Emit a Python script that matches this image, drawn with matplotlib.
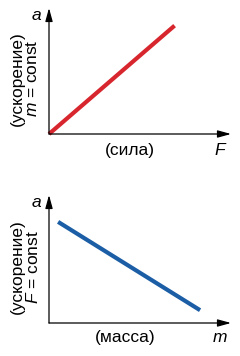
# -*- coding: utf-8 -*-

"""
Newton's second law: acceleration vs force and vs mass
"""

import matplotlib
matplotlib.use('Agg')
import matplotlib.pyplot as plt


# Conceptual data (arbitrary units)
force = [0.0, 0.69]
accel_vs_force = [0.0, 0.86]

mass = [0.05, 0.83]
accel_vs_mass = [0.79, 0.10]

RED = '#d8262e'
BLUE = '#1c5ea6'
W, H = 240, 356
FS = 12.5

plt.rcParams['font.family'] = ['Liberation Sans', 'DejaVu Sans']
plt.rcParams['mathtext.fontset'] = 'custom'
plt.rcParams['mathtext.it'] = 'Liberation Sans:italic'
plt.rcParams['mathtext.rm'] = 'Liberation Sans'


def px_axes(fig, left, top, right, bottom):
    """Add axes from pixel box (origin at top-left)."""
    return fig.add_axes([left / W, 1 - bottom / H,
                         (right - left) / W, (bottom - top) / H])


def draw_panel(ax, x, y, color, xname, yname, xlabel, xlabel_x, label_y,
               const):
    ax.set_xlim(0, 1)
    ax.set_ylim(0, 1)
    ax.axis('off')
    ax.plot(x, y, color=color, lw=3.0, solid_capstyle='butt', clip_on=False)

    # Axis arrows
    arrow = dict(arrowstyle='-|>,head_length=0.8,head_width=0.22',
                 color='black', lw=0.9, shrinkA=0, shrinkB=0)
    ax.annotate('', xy=(1, 0), xytext=(0, 0), xycoords='axes fraction',
                arrowprops=arrow)
    ax.annotate('', xy=(0, 1), xytext=(0, 0), xycoords='axes fraction',
                arrowprops=arrow)

    # Labels
    ax.text(-0.045, 0.94, yname, transform=ax.transAxes, ha='right',
            va='center', fontsize=FS, style='italic')
    ax.text(0.94, label_y, xname, transform=ax.transAxes, ha='center',
            va='center', fontsize=FS, style='italic')
    ax.text(xlabel_x, label_y, xlabel, transform=ax.transAxes, ha='center',
            va='center', fontsize=FS)
    ax.text(-0.176, 0.44, '(ускорение)', transform=ax.transAxes,
            ha='center', va='center', rotation=90, fontsize=FS)
    ax.text(-0.088, 0.44, const, transform=ax.transAxes,
            ha='center', va='center', rotation=90, fontsize=FS)


fig = plt.figure(figsize=(W / 100, H / 100), dpi=100)

ax1 = px_axes(fig, 49, 8, 231, 134)
draw_panel(ax1, force, accel_vs_force, RED, 'F', 'a', '(сила)', 0.445,
           -0.127, '$m$ = const')

ax2 = px_axes(fig, 49, 195, 231, 323)
draw_panel(ax2, mass, accel_vs_mass, BLUE, 'm', 'a', '(масса)', 0.418,
           -0.11, '$F$ = const')

fig.savefig('out.png', dpi=100)
